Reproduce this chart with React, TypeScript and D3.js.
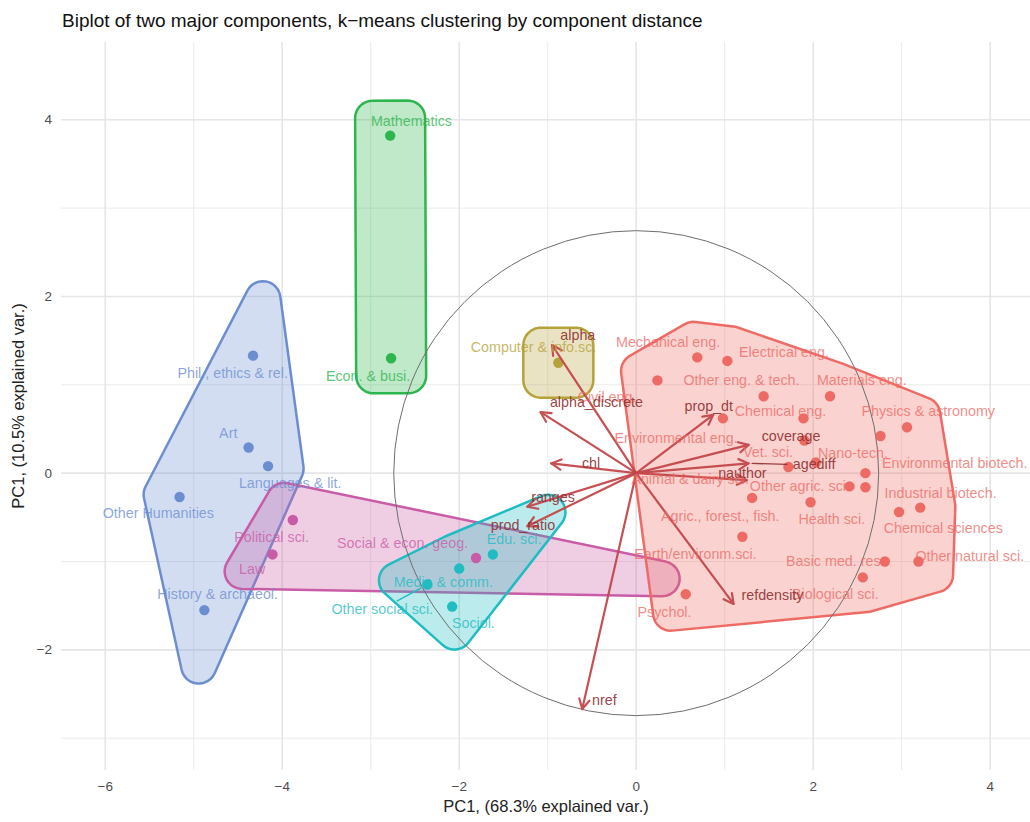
import React from "react";
import * as d3 from "d3";

// ---------- DATA ----------
const fieldNames = [
  "Phil., ethics & rel.", "Art", "Languages & lit.", "Other Humanities", "History & archaeol.",
  "Political sci.", "Law", "Social & econ. geog.",
  "Edu. sci.", "Media & comm.", "Other social sci.", "Sociol.",
  "Mathematics", "Econ. & busi.",
  "Computer & info.sc.",
  "Mechanical eng.", "Electrical eng.", "Civil eng.", "Other eng. & tech.", "Materials eng.",
  "Environmental eng.", "Chemical eng.", "Vet. sci.", "", "Physics & astronomy",
  "Nano-tech.", "Animal & dairy sci.", "Environmental biotech.", "Other agric. sci.", "Industrial biotech.",
  "Health sci.", "Agric., forest., fish.", "Earth/environm.sci.", "Chemical sciences", "",
  "Basic med. res.", "Other natural sci.", "Biological sci.", "Psychol.",
];
const fieldCluster = [
  "hum", "hum", "hum", "hum", "hum",
  "pol", "pol", "pol",
  "soc", "soc", "soc", "soc",
  "math", "math",
  "cs",
  "sci", "sci", "sci", "sci", "sci",
  "sci", "sci", "sci", "sci", "sci",
  "sci", "sci", "sci", "sci", "sci",
  "sci", "sci", "sci", "sci", "sci",
  "sci", "sci", "sci", "sci",
];
const pc1 = [
  -4.33, -4.38, -4.16, -5.16, -4.88,
  -3.88, -4.11, -1.81,
  -1.62, -2.0, -2.36, -2.08,
  -2.78, -2.77,
  -0.88,
  0.69, 1.03, 0.24, 1.44, 2.19,
  0.98, 1.89, 1.9, 2.76, 3.06,
  2.03, 1.72, 2.59, 2.41, 2.59,
  1.97, 1.31, 1.2, 2.97, 3.21,
  2.81, 3.19, 2.56, 0.56,
];
const pc2 = [
  1.33, 0.29, 0.08, -0.27, -1.55,
  -0.53, -0.92, -0.96,
  -0.92, -1.08, -1.26, -1.51,
  3.82, 1.3,
  1.25,
  1.31, 1.27, 1.05, 0.87, 0.87,
  0.62, 0.62, 0.37, 0.42, 0.52,
  0.12, 0.07, 0.0, -0.15, -0.16,
  -0.33, -0.28, -0.72, -0.44, -0.39,
  -1.0, -1.0, -1.18, -1.37,
];
// label anchors (placed by a repel step in the original), data units
const labelPC1 = [
  -4.56, -4.61, -3.91, -5.4, -4.73,
  -4.12, -4.34, -2.64,
  -1.38, -2.18, -2.87, -1.84,
  -2.54, -3.03,
  -1.16,
  0.36, 1.67, -0.33, 1.19, 2.55,
  0.45, 1.63, 1.49, 0, 3.3,
  2.45, 0.61, 3.6, 1.85, 3.44,
  2.21, 0.95, 0.67, 3.47, 0,
  2.25, 3.77, 2.25, 0.32,
];
const labelPC2 = [
  1.13, 0.46, -0.11, -0.45, -1.37,
  -0.72, -1.08, -0.79,
  -0.74, -1.23, -1.54, -1.7,
  3.99, 1.1,
  1.43,
  1.49, 1.37, 0.86, 1.05, 1.05,
  0.4, 0.7, 0.24, 0, 0.7,
  0.23, -0.07, 0.11, -0.14, -0.22,
  -0.52, -0.49, -0.91, -0.62, 0,
  -1.0, -0.94, -1.37, -1.57,
];
const segmentLabels = ["Other social sci."];

const varNames = ["alpha", "alpha_discrete", "chl", "ranges", "prod_ratio", "nref", "refdensity", "prop_dt", "coverage", "agediff", "nauthor"];
const varPC1 = [-0.95, -1.08, -0.96, -1.23, -1.23, -0.61, 1.1, 0.87, 1.27, 1.27, 1.25];
const varPC2 = [1.45, 0.69, 0.11, -0.38, -0.6, -2.67, -1.48, 0.66, 0.32, 0.11, -0.08];
const varLabelPC1 = [-0.66, -0.45, -0.51, -0.94, -1.28, -0.36, 1.54, 0.82, 1.75, 2.01, 1.2];
const varLabelPC2 = [1.56, 0.8, 0.11, -0.27, -0.59, -2.57, -1.38, 0.76, 0.42, 0.1, 0.0];
const varSegment = ["agediff"];

const circleRadius = 2.74;

const xTicks = [-6, -4, -2, 0, 2, 4];
const xMinor = [-5, -3, -1, 1, 3];
const yTicks = [-2, 0, 2, 4];
const yMinor = [-3, -1, 1, 3];

const clusterOrder = ["hum", "math", "cs", "pol", "soc", "sci"];
const clusterColor: Record<string, string> = {
  hum: "#6C8ED1",
  pol: "#C95CA7",
  soc: "#1FBCC1",
  math: "#2DB54E",
  cs: "#B5A23A",
  sci: "#EE6B65",
};

const title = "Biplot of two major components, k\u2212means clustering by component distance";
const xTitle = "PC1, (68.3% explained var.)";
const yTitle = "PC1, (10.5% explained var.)";

// ---------- LAYOUT ----------
const W = 1030, H = 822;
const x = d3.scaleLinear().domain([-6.5, 4.45]).range([61, 1030]);
const y = d3.scaleLinear().domain([-3.36, 4.88]).range([770, 42]);
const FONT = "'Liberation Sans', Arial, Helvetica, sans-serif";

type P = [number, number];

function orient(poly: P[]): P[] {
  let a = 0;
  for (let i = 0; i < poly.length; i++) {
    const p = poly[i], q = poly[(i + 1) % poly.length];
    a += p[0] * q[1] - q[0] * p[1];
  }
  return a < 0 ? poly.slice().reverse() : poly;
}
function normals(poly: P[]): P[] {
  return poly.map((p, i) => {
    const q = poly[(i + 1) % poly.length];
    const dx = q[0] - p[0], dy = q[1] - p[1];
    const L = Math.hypot(dx, dy) || 1;
    return [dy / L, -dx / L] as P;
  });
}
function offsetPoly(h: P[], k: number): P[] {
  const poly = orient(h);
  const n = normals(poly);
  const m = poly.length;
  return poly.map((p, i) => {
    const a = n[(i - 1 + m) % m], b = n[i];
    const f = k / (1 + a[0] * b[0] + a[1] * b[1]);
    return [p[0] + (a[0] + b[0]) * f, p[1] + (a[1] + b[1]) * f] as P;
  });
}
function roundPoly(base: P[], r: number): P[] {
  const poly = orient(base);
  const n = normals(poly);
  const m = poly.length;
  const out: P[] = [];
  poly.forEach((v, i) => {
    const a = n[(i - 1 + m) % m], b = n[i];
    const a0 = Math.atan2(a[1], a[0]);
    let d = Math.atan2(b[1], b[0]) - a0;
    while (d > Math.PI) d -= 2 * Math.PI;
    while (d <= -Math.PI) d += 2 * Math.PI;
    const steps = 12;
    for (let s = 0; s <= steps; s++) {
      const t = a0 + (d * s) / steps;
      out.push([v[0] + r * Math.cos(t), v[1] + r * Math.sin(t)]);
    }
  });
  return out;
}
function markHull(pts: P[], e: number, r: number): P[] {
  const k = e - r;
  let base: P[];
  if (pts.length === 1) {
    const [px, py] = pts[0];
    base = [[px - k, py - k], [px + k, py - k], [px + k, py + k], [px - k, py + k]];
  } else if (pts.length === 2) {
    const [a, b] = pts;
    const dx = b[0] - a[0], dy = b[1] - a[1];
    const L = Math.hypot(dx, dy);
    const ux = dx / L, uy = dy / L, nx = -uy, ny = ux;
    base = [
      [a[0] - ux * k + nx * k, a[1] - uy * k + ny * k],
      [b[0] + ux * k + nx * k, b[1] + uy * k + ny * k],
      [b[0] + ux * k - nx * k, b[1] + uy * k - ny * k],
      [a[0] - ux * k - nx * k, a[1] - uy * k - ny * k],
    ];
  } else {
    const h = d3.polygonHull(pts) as P[];
    base = offsetPoly(h, k);
  }
  return roundPoly(base, r);
}

export default function App() {
  const pts = pc1.map((v, i) => ({
    name: fieldNames[i],
    cl: fieldCluster[i],
    px: x(v),
    py: y(pc2[i]),
    lx: x(labelPC1[i]),
    ly: y(labelPC2[i]),
  }));
  const line = d3.line<P>().curve(d3.curveLinearClosed);
  const hulls = clusterOrder.map((cl) => {
    const cp = pts.filter((p) => p.cl === cl).map((p) => [p.px, p.py] as P);
    return { cl, d: line(markHull(cp, 35, 17.5)) || "" };
  });
  const ox = x(0), oy = y(0);
  const arrowColor = "#C4474A";
  const arrowLabelColor = "#8E2E2E";
  const labelSize = 14.3;

  return (
    <svg width={W} height={H} style={{ position: "absolute", left: 0, top: 0, background: "#fff" }} fontFamily={FONT}>
      <rect x={0} y={0} width={W} height={H} fill="#fff" />
      {/* grid */}
      {xMinor.map((t) => (
        <line key={"xm" + t} x1={x(t)} x2={x(t)} y1={42} y2={770} stroke="#EBEBEB" strokeWidth={1} />
      ))}
      {yMinor.map((t) => (
        <line key={"ym" + t} x1={61} x2={1030} y1={y(t)} y2={y(t)} stroke="#EBEBEB" strokeWidth={1} />
      ))}
      {xTicks.map((t) => (
        <line key={"xM" + t} x1={x(t)} x2={x(t)} y1={42} y2={770} stroke="#E6E6E6" strokeWidth={1.6} />
      ))}
      {yTicks.map((t) => (
        <line key={"yM" + t} x1={61} x2={1030} y1={y(t)} y2={y(t)} stroke="#E6E6E6" strokeWidth={1.6} />
      ))}
      {/* hulls */}
      {hulls.map((h) => (
        <path key={h.cl} d={h.d} fill={clusterColor[h.cl]} fillOpacity={0.3} stroke={clusterColor[h.cl]} strokeWidth={2.5} strokeLinejoin="round" />
      ))}
      {/* circle */}
      <circle cx={ox} cy={oy} r={x(circleRadius) - x(0)} fill="none" stroke="#6E6E6E" strokeWidth={1} />
      {/* points */}
      {pts.map((p, i) => (
        <circle key={"pt" + i} cx={p.px} cy={p.py} r={5.2} fill={clusterColor[p.cl]} />
      ))}
      {/* arrows */}
      {varNames.map((v, i) => {
        const tx = x(varPC1[i]), ty = y(varPC2[i]);
        const dx = tx - ox, dy = ty - oy;
        const L = Math.hypot(dx, dy);
        const ux = dx / L, uy = dy / L;
        const hl = 11, ang = (28 * Math.PI) / 180;
        const c = Math.cos(ang), s = Math.sin(ang);
        const h1: P = [tx - hl * (ux * c - uy * s), ty - hl * (uy * c + ux * s)];
        const h2: P = [tx - hl * (ux * c + uy * s), ty - hl * (uy * c - ux * s)];
        return (
          <g key={"ar" + v} stroke={arrowColor} strokeWidth={2.2} fill="none" strokeLinecap="round" strokeLinejoin="round" opacity={0.95}>
            <line x1={ox} y1={oy} x2={tx} y2={ty} />
            <polyline points={`${h1[0]},${h1[1]} ${tx},${ty} ${h2[0]},${h2[1]}`} />
          </g>
        );
      })}
      {/* arrow label segments */}
      {varNames.map((v, i) =>
        varSegment.includes(v) ? (
          <line key={"vs" + v} x1={x(varPC1[i]) + 3} y1={y(varPC2[i])} x2={x(varLabelPC1[i]) - v.length * 3.8} y2={y(varLabelPC2[i])} stroke={arrowLabelColor} strokeWidth={1.3} opacity={0.9} />
        ) : null
      )}
      {/* field label segments */}
      {pts.map((p, i) => {
        if (!segmentLabels.includes(p.name)) return null;
        const dx = p.px - p.lx, dy = p.py - p.ly;
        const hw = p.name.length * 3.6 + 2, hh = 8;
        const t0 = Math.min(hw / Math.abs(dx || 1e-6), hh / Math.abs(dy || 1e-6));
        const L = Math.hypot(dx, dy);
        return (
          <line key={"sg" + i} x1={p.lx + dx * t0} y1={p.ly + dy * t0} x2={p.px - (dx / L) * 7} y2={p.py - (dy / L) * 7} stroke={clusterColor[p.cl]} strokeWidth={1.4} />
        );
      })}
      {/* field labels */}
      {pts.map((p, i) =>
        p.name ? (
          <text key={"lb" + i} x={p.lx} y={p.ly} textAnchor="middle" dominantBaseline="central" fontSize={labelSize} fill={clusterColor[p.cl]} fillOpacity={0.78}>
            {p.name}
          </text>
        ) : null
      )}
      {/* variable labels */}
      {varNames.map((v, i) => (
        <text key={"vl" + v} x={x(varLabelPC1[i])} y={y(varLabelPC2[i])} textAnchor="middle" dominantBaseline="central" fontSize={labelSize} fill={arrowLabelColor} fillOpacity={0.9}>
          {v}
        </text>
      ))}
      {/* axes labels */}
      {xTicks.map((t) => (
        <text key={"xt" + t} x={x(t)} y={786} textAnchor="middle" dominantBaseline="central" fontSize={13.5} fill="#4D4D4D">
          {t < 0 ? "\u2212" + Math.abs(t) : String(t)}
        </text>
      ))}
      {yTicks.map((t) => (
        <text key={"yt" + t} x={52} y={y(t)} textAnchor="end" dominantBaseline="central" fontSize={13.5} fill="#4D4D4D">
          {t < 0 ? "\u2212" + Math.abs(t) : String(t)}
        </text>
      ))}
      <text x={546} y={806} textAnchor="middle" dominantBaseline="central" fontSize={16.5} fill="#222">
        {xTitle}
      </text>
      <text transform={`translate(18,406) rotate(-90)`} textAnchor="middle" dominantBaseline="central" fontSize={16.5} fill="#222">
        {yTitle}
      </text>
      <text x={62} y={20} dominantBaseline="central" fontSize={19} fill="#111">
        {title}
      </text>
    </svg>
  );
}
